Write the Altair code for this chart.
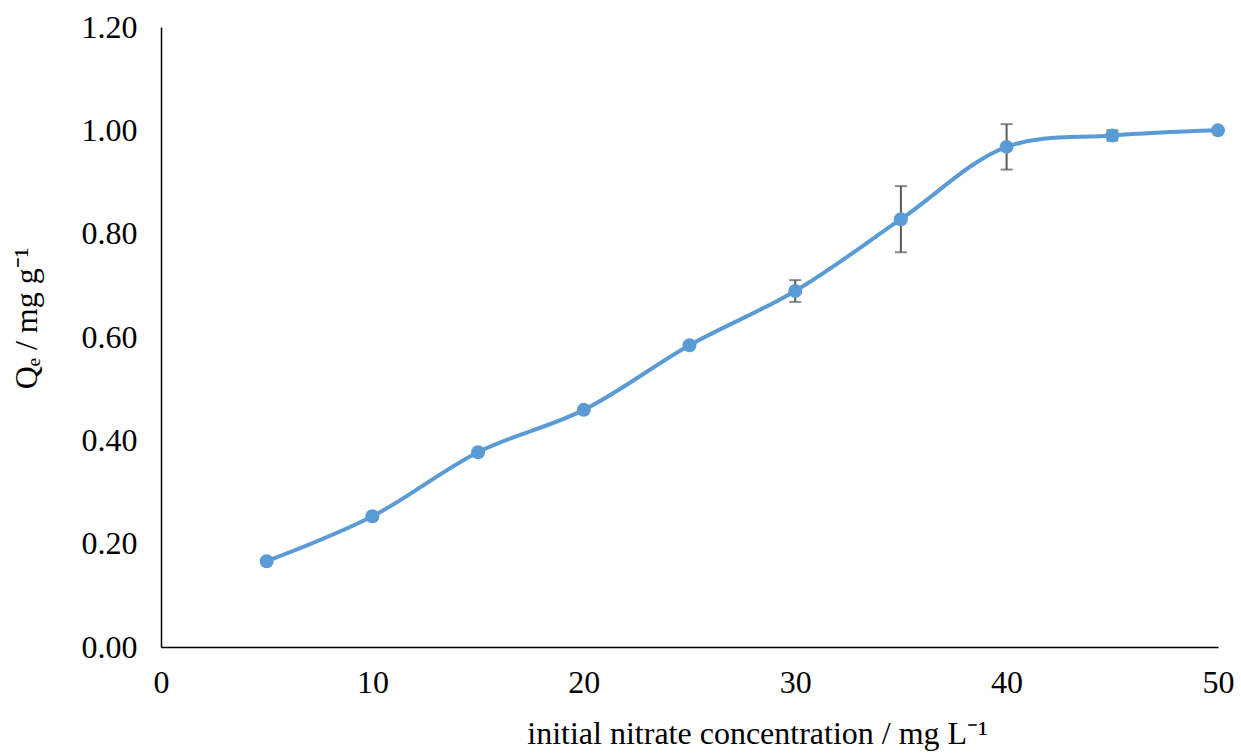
import altair as alt
import pandas as pd

conc = [5, 10, 15, 20, 25, 30, 35, 40, 45, 50]
qe = [0.166, 0.253, 0.377, 0.459, 0.584, 0.689, 0.828, 0.968, 0.990, 1.000]
err = [0.0, 0.0, 0.0, 0.0, 0.0, 0.021, 0.064, 0.044, 0.010, 0.0]

df = pd.DataFrame({"x": conc, "y": qe, "e": err})
df["lo"] = df["y"] - df["e"]
df["hi"] = df["y"] + df["e"]
dfe = df[df["e"] > 0]

FONT = "Liberation Serif"
BLUE = "#5B9BD5"
GREY = "#595959"
FS = 32

xs = alt.Scale(domain=[0, 50], nice=False, zero=True)
ys = alt.Scale(domain=[0, 1.2], nice=False)

xax = alt.Axis(values=[0, 10, 20, 30, 40, 50], title="initial nitrate concentration / mg L\u207b\u00b9",
               grid=False, ticks=False, labelFont=FONT, labelFontSize=FS, labelColor="black",
               labelPadding=20, labelFlush=False, labelOverlap=False,
               titleFont=FONT, titleFontSize=FS, titleFontWeight="normal",
               titleColor="black", titleX=596, titleY=96, titleBaseline="alphabetic",
               domainColor="black", domainWidth=1.5)
yax = alt.Axis(values=[0, 0.2, 0.4, 0.6, 0.8, 1.0, 1.2], format=".2f", title="Q\u2091 / mg g\u207b\u00b9",
               grid=False, ticks=False, labelFont=FONT, labelFontSize=FS, labelColor="black",
               labelPadding=24, labelFlush=False, labelOverlap=False,
               titleFont=FONT, titleFontSize=FS, titleFontWeight="normal",
               titleColor="black", titleX=-125, titleY=291, titleBaseline="alphabetic",
               domainColor="black", domainWidth=1.5)

base = alt.Chart(df)
line = base.mark_line(color=BLUE, strokeWidth=4, interpolate="catmull-rom").encode(
    x=alt.X("x:Q", scale=xs, axis=xax), y=alt.Y("y:Q", scale=ys, axis=yax))
rules = alt.Chart(dfe).mark_rule(color=GREY, strokeWidth=2).encode(
    x="x:Q", y="lo:Q", y2="hi:Q")
cap_lo = alt.Chart(dfe).mark_tick(color=GREY, thickness=2, size=12, orient="horizontal").encode(
    x="x:Q", y="lo:Q")
cap_hi = alt.Chart(dfe).mark_tick(color=GREY, thickness=2, size=12, orient="horizontal").encode(
    x="x:Q", y="hi:Q")
pts = base.mark_circle(color=BLUE, opacity=1, size=195).encode(x="x:Q", y="y:Q")

chart = alt.layer(line, rules, cap_lo, cap_hi, pts).properties(
    width=1057, height=620,
    autosize=alt.AutoSizeParams(type="none"),
    padding={"left": 161, "top": 27, "right": 23, "bottom": 106},
).configure_view(stroke=None)

chart.save("out.html", embed_options={"renderer": "svg", "actions": False})
